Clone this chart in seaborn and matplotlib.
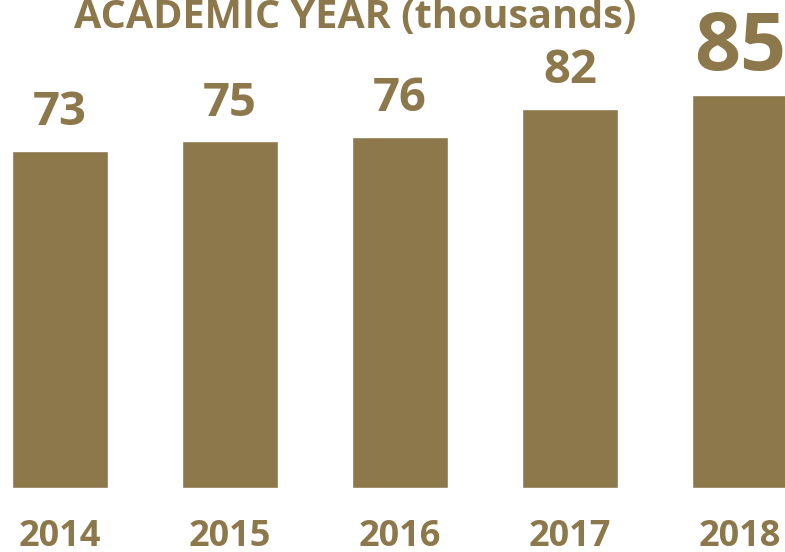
import matplotlib
matplotlib.use("Agg")
import matplotlib.pyplot as plt
import seaborn as sns
import pandas as pd

years = ["2014", "2015", "2016", "2017", "2018"]
values = [73, 75, 76, 82, 85]
label_sizes = [34, 34, 34, 34, 58]

title = "ACADEMIC YEAR (thousands)"
gold = "#8C784B"

sns.set_theme(style="white")
plt.rcParams["font.family"] = ["Open Sans", "DejaVu Sans"]

df = pd.DataFrame({"year": years, "value": values})

fig = plt.figure(figsize=(7.85, 5.52), dpi=100)
ax = fig.add_axes([0, 64 / 552, 1, 488 / 552])

sns.barplot(data=df, x="year", y="value", color=gold, width=0.57,
            saturation=1, ax=ax)

ax.set_xlim(-0.353, 4.265)
ax.set_ylim(0, 105.6)
ax.set_xlabel("")
ax.set_ylabel("")
ax.set_yticks([])
sns.despine(ax=ax, left=True, bottom=True)
ax.tick_params(axis="x", length=0, pad=22)
for lbl in ax.get_xticklabels():
    lbl.set_fontsize(26)
    lbl.set_fontweight("bold")
    lbl.set_color(gold)

# value labels above each bar
for i, (v, s) in enumerate(zip(values, label_sizes)):
    ax.annotate(str(v), (i, v), xytext=(0, 18.5), textcoords="offset points",
                ha="center", va="baseline", fontsize=s, fontweight="bold",
                color=gold, annotation_clip=False)

fig.text(355 / 785, 1 - 28 / 552, title, ha="center", va="baseline",
         fontsize=28.5, fontweight="bold", color=gold)

fig.savefig("out.png", dpi=100)
